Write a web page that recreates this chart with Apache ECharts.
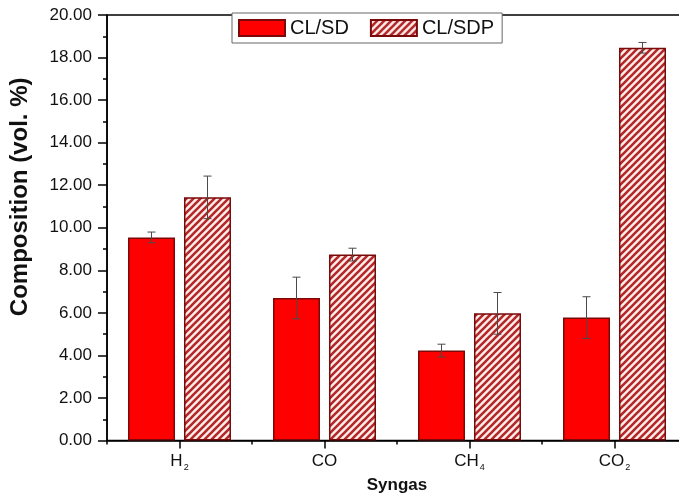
<!DOCTYPE html>
<html>
<head>
<meta charset="utf-8">
<script src="https://cdn.jsdelivr.net/npm/echarts@6/dist/echarts.min.js"></script>
<style>html,body{margin:0;padding:0;background:#fff;overflow:hidden;width:679px;height:499px;}#main{width:688px;height:499px;}</style>
</head>
<body>
<div id="main"></div>
<script>
const categories = ['H2', 'CO', 'CH4', 'CO2'];
const seriesNames = ['CL/SD', 'CL/SDP'];
const sdValues = [9.55, 6.70, 4.23, 5.78];
const sdErrors = [0.25, 0.98, 0.30, 0.98];
const sdpValues = [11.43, 8.74, 5.98, 18.46];
const sdpErrors = [1.00, 0.30, 0.98, 0.25];
const yTicks = { min: 0, max: 20, interval: 2 };

const FONT = 'Liberation Sans, Arial, sans-serif';
const BAR_W = 47, BAR_GAP = 9;

function makeHatch() {
  const T = 7;
  const c = document.createElement('canvas');
  c.width = T; c.height = T;
  const g = c.getContext('2d');
  g.fillStyle = '#fdeeea';
  g.fillRect(0, 0, T, T);
  g.strokeStyle = '#b3282a';
  g.lineWidth = 2.6;
  g.beginPath();
  g.moveTo(-1, T + 1); g.lineTo(T + 1, -1);
  g.moveTo(-2, 2); g.lineTo(2, -2);
  g.moveTo(T - 2, T + 2); g.lineTo(T + 2, T - 2);
  g.stroke();
  return c;
}
const hatch = { image: makeHatch(), repeat: 'repeat' };

function catLabel(v) {
  const parts = v.match(/\d+|\D+/g) || [];
  return parts.map(p => /\d/.test(p) ? '{s|' + p + '}' : '{a|' + p + '}').join('');
}

function errSeries(values, errors, side) {
  const data = values.map((v, i) => [i, v, errors[i]]);
  return {
    type: 'custom',
    z: 10,
    silent: true,
    data: data,
    renderItem: function (params, api) {
      const i = api.value(0), v = api.value(1), e = api.value(2);
      const hi = api.coord([i, v + e]);
      const lo = api.coord([i, v - e]);
      const x = hi[0] + side * (BAR_W + BAR_GAP) / 2;
      const cap = 4;
      const st = { stroke: '#4a4a4a', lineWidth: 1 };
      return {
        type: 'group',
        children: [
          { type: 'line', shape: { x1: x, y1: hi[1], x2: x, y2: lo[1] }, style: st },
          { type: 'line', shape: { x1: x - cap, y1: hi[1], x2: x + cap, y2: hi[1] }, style: st },
          { type: 'line', shape: { x1: x - cap, y1: lo[1], x2: x + cap, y2: lo[1] }, style: st }
        ]
      };
    }
  };
}

const chart = echarts.init(document.getElementById('main'), null, { renderer: 'canvas' });
chart.setOption({
  animation: false,
  backgroundColor: '#fff',
  grid: {
    left: 104, top: 15, width: 583, height: 429,
    show: true, borderColor: '#000', borderWidth: 1.5, backgroundColor: 'transparent'
  },
  legend: {
    data: seriesNames,
    left: 232, top: 13,
    padding: [5, 8, 5, 6],
    itemWidth: 46, itemHeight: 16, itemGap: 21,
    icon: 'rect',
    backgroundColor: '#fff',
    borderColor: '#666', borderWidth: 1,
    textStyle: { fontFamily: FONT, fontSize: 20, color: '#111' }
  },
  xAxis: [{
    type: 'category',
    data: categories,
    name: 'Syngas',
    nameLocation: 'middle',
    nameGap: 35,
    nameTextStyle: { fontFamily: FONT, fontSize: 17, fontWeight: 'bold', color: '#111' },
    axisLine: { show: true, lineStyle: { color: '#000', width: 1.5 } },
    axisTick: { show: true, alignWithLabel: true, length: 8, lineStyle: { color: '#000', width: 1.5 } },
    axisLabel: {
      margin: 12,
      formatter: catLabel,
      rich: {
        a: { fontFamily: FONT, fontSize: 17, color: '#111', lineHeight: 17, verticalAlign: 'top' },
        s: { fontFamily: FONT, fontSize: 9, color: '#111', lineHeight: 9, padding: [13, 0, 0, 1] }
      }
    },
    splitLine: { show: false }
  }, {
    type: 'category',
    data: categories,
    position: 'bottom',
    axisLine: { show: false },
    axisTick: { show: true, length: 4, lineStyle: { color: '#000', width: 1.5 } },
    axisLabel: { show: false },
    splitLine: { show: false }
  }],
  yAxis: {
    type: 'value',
    min: yTicks.min, max: yTicks.max, interval: yTicks.interval,
    name: 'Composition (vol. %)',
    nameLocation: 'middle',
    nameGap: 75,
    nameTextStyle: { fontFamily: FONT, fontSize: 24, fontWeight: 'bold', color: '#111', padding: [0, 0, 0, 62] },
    axisLine: { show: true, lineStyle: { color: '#000', width: 1.5 } },
    axisTick: { show: true, length: 9, lineStyle: { color: '#000', width: 1.5 } },
    minorTick: { show: true, splitNumber: 2, length: 4, lineStyle: { color: '#000', width: 1.5 } },
    axisLabel: {
      margin: 15,
      fontFamily: FONT, fontSize: 17, color: '#111',
      formatter: v => v.toFixed(2)
    },
    splitLine: { show: false }
  },
  series: [{
    name: seriesNames[0],
    type: 'bar',
    data: sdValues,
    barWidth: BAR_W,
    barGap: (BAR_GAP / BAR_W * 100).toFixed(1) + '%',
    itemStyle: { color: '#ff0000', borderColor: '#7a0a0a', borderWidth: 1.5 }
  }, {
    name: seriesNames[1],
    type: 'bar',
    data: sdpValues,
    barWidth: BAR_W,
    itemStyle: { color: hatch, borderColor: '#7a0a0a', borderWidth: 1.5 }
  },
  errSeries(sdValues, sdErrors, -1),
  errSeries(sdpValues, sdpErrors, 1)
  ]
});
</script>
</body>
</html>
